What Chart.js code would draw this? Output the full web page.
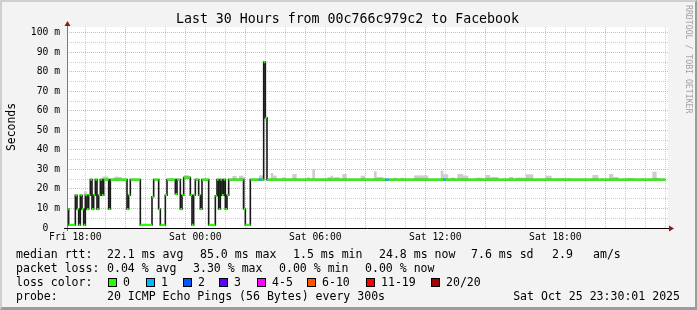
<!DOCTYPE html>
<html>
<head>
<meta charset="utf-8">
<script src="https://cdn.jsdelivr.net/npm/chart.js@4.4.1/dist/chart.umd.min.js"></script>
<style>
  body { margin: 0; background: #f3f3f3; }
  #wrap { position: relative; width: 697px; height: 310px; overflow: hidden;
          font-family: "DejaVu Sans Mono", monospace; color: #000; }
  #chart { position: absolute; left: 0; top: 0; }
  #frame { position: absolute; left: 0; top: 0; width: 697px; height: 310px; box-sizing: border-box;
           border-top: 2px solid #cfcfcf; border-left: 2px solid #cfcfcf;
           border-right: 2px solid #9c9c9c; border-bottom: 3px solid #9c9c9c; pointer-events: none; }
  .t { position: absolute; white-space: pre; line-height: 14px; font-size: 11.55px; }
  .box { position: absolute; width: 7px; height: 7px; border: 1px solid #000; top: 278px; }
  #title { position: absolute; left: 0; width: 695px; top: 11px; text-align: center;
           font-size: 13.25px; line-height: 16px; white-space: pre; }
  #ylab { position: absolute; left: -19.5px; top: 120px; width: 60px; text-align: center;
          font-size: 11.4px; line-height: 14px; transform: rotate(-90deg); }
  #credit { position: absolute; left: 634.5px; top: 54px; width: 108px; text-align: center;
            font-size: 8.2px; line-height: 10px; color: #a0a0a0; transform: rotate(90deg); white-space: pre; }
</style>
</head>
<body>
<div id="wrap">
  <canvas id="chart" width="697" height="310"></canvas>
  <div id="title">Last 30 Hours from 00c766c979c2 to Facebook</div>
  <div id="ylab">Seconds</div>
  <div id="credit">RRDTOOL / TOBI OETIKER</div>
  <div id="legend"></div>
  <div id="frame"></div>
</div>
<script>
// time in minutes from Fri 18:00, values in ms
const START_MIN = -25;
const END_MIN = 1770;
const AXIS_MAX_MIN = 1778;

// median rtt, as runs: start minute, level, loss bucket
const medianStarts = [-25, -20, 0, 5, 10, 15, 20, 25, 30, 35, 40, 45, 50, 55, 60, 65, 70, 75, 80, 85,
  100, 105, 155, 160, 165, 195, 230, 235, 250, 255, 270, 275, 300, 305, 315, 320, 325, 345, 350, 355,
  360, 370, 375, 380, 400, 420, 425, 430, 435, 440, 445, 450, 455, 460, 505, 510, 525, 550, 560, 565,
  570, 575, 930, 940, 1105, 1110];
const medianLevels = [9.7, 1.6, 16.8, 9.7, 1.6, 16.8, 9.7, 1.6, 16.8, 9.7, 16.8, 24.8, 9.7, 16.8, 24.8, 9.7, 16.8, 24.8, 16.8, 24.8,
  9.7, 24.8, 9.7, 16.8, 24.8, 1.6, 16.0, 24.8, 9.7, 1.6, 16.8, 24.8, 17.4, 24.8, 9.7, 16.8, 25.8, 16.8, 1.6, 16.8,
  24.8, 16.8, 9.7, 24.8, 1.6, 16.5, 24.8, 9.7, 24.8, 16.8, 24.8, 9.7, 16.8, 24.8, 9.7, 1.6, 24.8, 24.8, 24.8, 85.0,
  56.5, 24.8, 24.8, 24.8, 24.8, 24.8];
const medianLoss = [0, 0, 0, 0, 0, 0, 0, 0, 0, 0, 0, 0, 0, 0, 0, 0, 0, 0, 0, 0,
  0, 0, 0, 0, 0, 0, 0, 0, 0, 0, 0, 0, 0, 0, 0, 0, 0, 0, 0, 0,
  0, 0, 0, 0, 0, 0, 0, 0, 0, 0, 0, 0, 0, 0, 0, 0, 0, 1, 0, 0,
  0, 0, 1, 0, 1, 0];

// smoke (ping spread) tops above the median
const smokeTimes = [30, 85, 90, 95, 120, 125, 130, 135, 330, 335, 340, 475, 480, 495, 500, 505,
  555, 560, 590, 595, 600, 625, 655, 660, 700, 715, 760, 765, 770, 780, 785, 790, 805, 810,
  860, 865, 900, 905, 910, 915, 920, 960, 980, 1020, 1025, 1030, 1035, 1040, 1045, 1050, 1055,
  1100, 1105, 1110, 1115, 1130, 1135, 1150, 1155, 1160, 1165, 1170, 1175, 1205, 1210, 1215,
  1235, 1240, 1245, 1250, 1255, 1260, 1265, 1305, 1310, 1325, 1330, 1335, 1340, 1345,
  1355, 1360, 1365, 1370, 1415, 1420, 1425, 1440, 1450, 1460, 1470, 1480,
  1555, 1560, 1565, 1605, 1610, 1615, 1620, 1625, 1660, 1665, 1670, 1735, 1740, 1745, 1750];
const smokeTops = [18.6, 26.2, 26.2, 26.2, 26.0, 26.2, 26.0, 26.0, 27.0, 27.0, 26.6, 26.5, 26.5, 26.6, 26.6, 26.0,
  26.8, 26.8, 28.0, 26.6, 26.6, 25.8, 27.5, 27.5, 25.8, 30.0, 25.8, 25.8, 26.6, 25.8, 25.8, 25.8, 27.5, 27.5,
  26.6, 26.6, 28.9, 26.0, 26.0, 26.0, 26.0, 25.6, 25.6, 26.7, 26.7, 26.7, 26.7, 26.7, 26.7, 26.7, 26.7,
  29.2, 27.3, 27.3, 27.3, 25.6, 25.6, 27.5, 27.5, 27.5, 26.6, 26.6, 26.6, 25.6, 25.6, 25.6,
  27.0, 27.0, 26.0, 26.0, 26.0, 26.0, 26.0, 26.0, 26.0, 25.6, 25.6, 25.6, 25.6, 25.6,
  27.3, 27.3, 27.3, 27.3, 26.6, 26.6, 26.6, 25.3, 25.3, 25.3, 25.3, 25.3,
  27.0, 27.0, 27.0, 27.5, 27.5, 26.0, 26.0, 26.0, 25.5, 25.5, 25.5, 28.7, 28.7, 25.5, 25.5];

// axis labels
const xLabelMinutes = [0, 360, 720, 1080, 1440];
const xLabels = ["Fri 18:00", "Sat 00:00", "Sat 06:00", "Sat 12:00", "Sat 18:00"];
const yMax = 103;

const LOSS_COLORS = ["#26ff00", "#00b8ff", "#0059ff", "#5e00ff", "#ff00ff", "#ff5500", "#ff0000", "#a10000"];
const LOSS_LABELS = ["0", "1", "2", "3", "4-5", "6-10", "11-19", "20/20"];

function medianAt(t) {
  let v = medianLevels[0];
  medianStarts.forEach((s, i) => { if (s <= t) v = medianLevels[i]; });
  return v;
}

// black step line through all runs
const stepPoints = medianStarts.map((s, i) => ({ x: s, y: medianLevels[i] }));
stepPoints.push({ x: END_MIN, y: medianLevels[medianLevels.length - 1] });

// coloured horizontal pieces, one per run
const lossPoints = [];
medianStarts.forEach((s, i) => {
  const end = i + 1 < medianStarts.length ? medianStarts[i + 1] : END_MIN;
  lossPoints.push({ x: s, y: medianLevels[i] }, { x: end, y: medianLevels[i] }, { x: end, y: null });
});

const smokeBars = smokeTimes.map((t, i) => ({ x: t, y: [medianAt(t), smokeTops[i]] }));

const hourTicks = [];
for (let m = 0; m <= AXIS_MAX_MIN; m += 60) hourTicks.push(m);
const fiveTicks = [];
for (let v = 0; v <= 100; v += 5) fiveTicks.push(v);

const RED_GRID = "rgba(225,120,120,0.6)";
const GRAY_GRID = "rgba(165,165,165,0.55)";

// plot background and rrdtool style axes with arrows
const plotFrame = {
  id: "plotFrame",
  beforeDraw(chart) {
    const { ctx, chartArea: a } = chart;
    ctx.save();
    ctx.fillStyle = "#ffffff";
    ctx.fillRect(a.left, a.top, a.right - a.left, a.bottom - a.top);
    ctx.restore();
  },
  afterDraw(chart) {
    const { ctx, chartArea: a } = chart;
    ctx.save();
    ctx.lineWidth = 1;
    ctx.strokeStyle = "#7a7a7a";
    ctx.beginPath();
    ctx.moveTo(a.left + 0.5, a.bottom + 3);
    ctx.lineTo(a.left + 0.5, a.top - 4);
    ctx.stroke();
    ctx.strokeStyle = "#000";
    ctx.beginPath();
    ctx.moveTo(a.left - 3, a.bottom + 0.5);
    ctx.lineTo(a.right + 3, a.bottom + 0.5);
    ctx.stroke();
    ctx.fillStyle = "#8b1a1a";
    ctx.beginPath();
    ctx.moveTo(a.left - 2.5, a.top - 1);
    ctx.lineTo(a.left + 3.5, a.top - 1);
    ctx.lineTo(a.left + 0.5, a.top - 6);
    ctx.fill();
    ctx.beginPath();
    ctx.moveTo(a.right + 1, a.bottom - 2.5);
    ctx.lineTo(a.right + 1, a.bottom + 3.5);
    ctx.lineTo(a.right + 6, a.bottom + 0.5);
    ctx.fill();
    ctx.restore();
  }
};

new Chart(document.getElementById("chart"), {
  type: "line",
  data: {
    datasets: [
      {
        type: "bar",
        data: smokeBars,
        backgroundColor: "#cdcdcd",
        borderWidth: 0,
        barThickness: 2,
        grouped: false,
        order: 3
      },
      {
        data: stepPoints,
        stepped: true,
        borderColor: "#1a1a1a",
        borderWidth: 1.6,
        pointRadius: 0,
        fill: false,
        order: 2
      },
      {
        data: lossPoints,
        borderColor: LOSS_COLORS[0],
        borderWidth: 2.2,
        borderCapStyle: "butt",
        pointRadius: 0,
        spanGaps: false,
        fill: false,
        segment: {
          borderColor: c => LOSS_COLORS[medianLoss[Math.floor(c.p0DataIndex / 3)]]
        },
        order: 1
      }
    ]
  },
  options: {
    responsive: false,
    animation: false,
    events: [],
    layout: { padding: { left: 0, top: 27, right: 29, bottom: 64 } },
    plugins: { legend: { display: false }, tooltip: { enabled: false } },
    scales: {
      x: {
        type: "linear",
        min: START_MIN,
        max: AXIS_MAX_MIN,
        offset: false,
        afterBuildTicks: s => { s.ticks = hourTicks.map(v => ({ value: v })); },
        afterFit: s => { s.height = 18; },
        grid: {
          drawTicks: false,
          lineWidth: 1,
          color: c => (c.tick && c.tick.value % 180 === 0 ? RED_GRID : GRAY_GRID)
        },
        border: { display: false, dash: [1, 1] },
        ticks: {
          autoSkip: false,
          maxRotation: 0,
          padding: 4,
          color: "#000",
          font: { family: "DejaVu Sans Mono", size: 9.7 },
          callback: v => {
            const i = xLabelMinutes.indexOf(v);
            return i >= 0 ? xLabels[i] : "";
          }
        }
      },
      y: {
        min: 0,
        max: yMax,
        afterBuildTicks: s => { s.ticks = fiveTicks.map(v => ({ value: v })); },
        afterFit: s => { s.width = 67; },
        grid: {
          drawTicks: false,
          lineWidth: 1,
          color: c => (c.tick && c.tick.value % 10 === 0 ? RED_GRID : GRAY_GRID)
        },
        border: { display: false, dash: [1, 1] },
        ticks: {
          autoSkip: false,
          padding: 7,
          color: "#000",
          font: { family: "DejaVu Sans Mono", size: 9.7 },
          callback: v => (v % 10 !== 0 ? "" : v === 0 ? "0  " : v + " m")
        }
      }
    }
  },
  plugins: [plotFrame]
});

// legend block under the graph
const legend = document.getElementById("legend");
function text(x, top, s, right) {
  const d = document.createElement("div");
  d.className = "t";
  d.style.top = top + "px";
  if (right) d.style.right = x + "px"; else d.style.left = x + "px";
  d.textContent = s;
  legend.appendChild(d);
}
const rttItems = ["median rtt:", "22.1 ms avg", "85.0 ms max", "1.5 ms min", "24.8 ms now", "7.6 ms sd", "2.9", "am/s"];
const rttX = [16, 107, 200, 293, 379, 471, 552, 593];
rttItems.forEach((s, i) => text(rttX[i], 247, s));

const lossItems = ["packet loss:", "0.04 % avg", "3.30 % max", "0.00 % min", "0.00 % now"];
const lossX = [16, 107, 193, 279, 365];
lossItems.forEach((s, i) => text(lossX[i], 261, s));

text(16, 275, "loss color:");
const boxX = [108, 146, 183, 219, 257, 307, 366, 431];
LOSS_LABELS.forEach((lab, i) => {
  const b = document.createElement("div");
  b.className = "box";
  b.style.left = boxX[i] + "px";
  b.style.background = LOSS_COLORS[i];
  legend.appendChild(b);
  text(boxX[i] + 15, 275, lab);
});

text(16, 289, "probe:");
text(107, 289, "20 ICMP Echo Pings (56 Bytes) every 300s");
text(17, 289, "Sat Oct 25 23:30:01 2025", true);
</script>
</body>
</html>
